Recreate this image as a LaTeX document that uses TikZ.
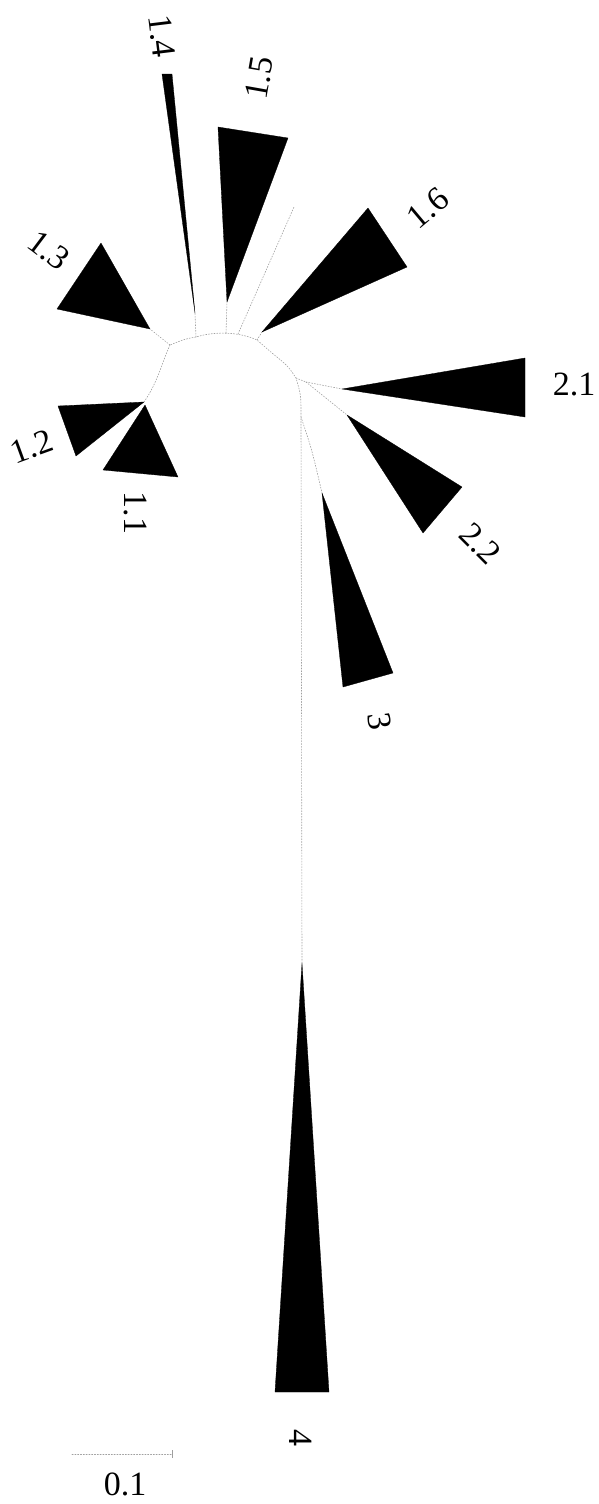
\documentclass[tikz,border=0pt]{standalone}
\usepackage{fontspec}
\setmainfont{Liberation Serif}
\begin{document}
\begin{tikzpicture}[x=1pt,y=-1pt,
  branch/.style={draw=gray!75,line width=0.6pt,dash pattern=on 1.2pt off 1.6pt,line cap=round},
  clade/.style={fill=black,draw=black,line width=0.3pt,line join=round},
  lab/.style={font=\fontsize{34}{36}\selectfont,inner sep=0pt}]
\useasboundingbox (0,0) rectangle (599,1504);
% tree coordinates
\coordinate (a4) at (302,963);
\coordinate (s1) at (301,417);
\coordinate (s2) at (296,378);
\coordinate (s3) at (272,353);
\coordinate (s4) at (257,340);
\coordinate (p5) at (238,334);
\coordinate (p15) at (226,333);
\coordinate (p14) at (196,337);
\coordinate (n1) at (170,345);
\coordinate (n2) at (306,382);
% clade apexes
\coordinate (a11) at (145,405);
\coordinate (a12) at (144,402);
\coordinate (a13) at (150,329);
\coordinate (a14) at (195,313);
\coordinate (a15) at (227,302);
\coordinate (a16) at (262,332);
\coordinate (a21) at (342,389);
\coordinate (a22) at (347,415);
\coordinate (a3) at (322,493);
\coordinate (leaf) at (294,207);
% branches
\draw[branch] (a4) -- (s1) .. controls (301,395) .. (s2) .. controls (288,366) .. (s3) -- (s4)
  .. controls (240,332) and (215,331) .. (p14) .. controls (185,339) .. (n1);
\draw[branch] (n1) -- (a13);
\draw[branch] (n1) .. controls (162,362) and (158,382) .. (a12);
\draw[branch] (p14) -- (a14);
\draw[branch] (p15) -- (a15);
\draw[branch] (p5) -- (leaf);
\draw[branch] (s4) -- (a16);
\draw[branch] (s2) -- (n2);
\draw[branch] (n2) -- (a21);
\draw[branch] (n2) -- (a22);
\draw[branch] (s1) .. controls (312,450) .. (a3);
% collapsed clades
\fill[clade] (a11) -- (103,470) -- (178,477) -- cycle;
\fill[clade] (a12) -- (58,406) -- (76,456) -- cycle;
\fill[clade] (a13) -- (101,243) -- (57,309) -- cycle;
\fill[clade] (a14) -- (162,74) -- (172,74) -- cycle;
\fill[clade] (a15) -- (218,127) -- (288,138) -- cycle;
\fill[clade] (a16) -- (368,208) -- (407,267) -- cycle;
\fill[clade] (a21) -- (525,358) -- (525,417) -- cycle;
\fill[clade] (a22) -- (462,487) -- (423,533) -- cycle;
\fill[clade] (a3) -- (393,673) -- (343,687) -- cycle;
\fill[clade] (a4) -- (329,1392) -- (275,1392) -- cycle;
% labels
\node[lab,rotate=-90] (l11) at (135,513) {1.1};
\node[lab,rotate=20] (l12) at (32,447) {1.2};
\node[lab,rotate=-37] (l13) at (49,250) {1.3};
\node[lab,rotate=-83] (l14) at (162,36) {1.4};
\node[lab,rotate=80] (l15) at (259,78) {1.5};
\node[lab,rotate=40] (l16) at (428,208) {1.6};
\node[lab] (l21) at (574,384) {2.1};
\node[lab,rotate=-45] (l22) at (480,544) {2.2};
\node[lab,rotate=-82] (l3) at (380,721) {3};
\node[lab,rotate=-90] (l4) at (301,1438) {4};
% scale bar
\coordinate (sb1) at (72,1454);
\coordinate (sb2) at (172,1454);
\draw[branch] (sb1) -- (sb2);
\draw[draw=gray!75,line width=0.6pt] (172,1450) -- (172,1458);
\node[lab] (sbl) at (125,1484) {0.1};
\end{tikzpicture}
\end{document}
